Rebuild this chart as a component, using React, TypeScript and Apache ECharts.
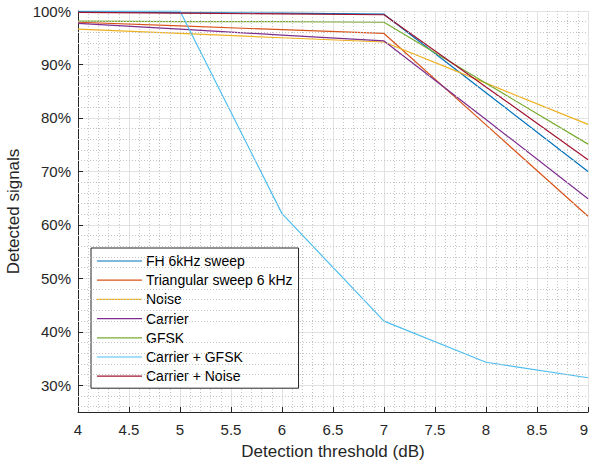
import React, { useEffect, useRef } from "react";
import * as echarts from "echarts";

// Detection thresholds (dB)
const thresholds = [4, 5, 6, 7, 8, 9];

const seriesNames = [
  "FH 6kHz sweep",
  "Triangular sweep 6 kHz",
  "Noise",
  "Carrier",
  "GFSK",
  "Carrier + GFSK",
  "Carrier + Noise",
];

// Detected signals (%)
const fhSweep = [99.9, 99.7, 99.6, 99.4, 84.7, 70.0];
const triangularSweep = [97.9, 97.2, 96.5, 95.8, 78.7, 61.6];
const noise = [96.6, 95.8, 95.0, 94.2, 86.5, 78.8];
const carrier = [97.7, 96.6, 95.5, 94.4, 79.7, 64.9];
const gfsk = [98.1, 98.0, 98.0, 97.9, 86.5, 75.1];
const carrierGfsk = [100, 100, 62.1, 42.0, 34.3, 31.4];
const carrierNoise = [99.75, 99.6, 99.45, 99.3, 85.8, 72.2];

const seriesValues = [fhSweep, triangularSweep, noise, carrier, gfsk, carrierGfsk, carrierNoise];

const colors = ["#0072BD", "#D95319", "#EDB120", "#7E2F8E", "#77AC30", "#4DBEEE", "#A2142F"];

const Y_MIN = 25;
const Y_MAX = 100;

const FONT = "'Liberation Sans', Arial, Helvetica, sans-serif";
const AXIS_COLOR = "#262626";

export default function App() {
  const ref = useRef<HTMLDivElement>(null);

  useEffect(() => {
    document.body.style.margin = "0";
    if (!ref.current) return;
    const chart = echarts.init(ref.current, undefined, { renderer: "svg" });

    // minor horizontal grid lines every 2% (not on major lines)
    const yMinor: number[] = [];
    for (let v = 26; v < Y_MAX; v += 2) {
      if (v % 10 !== 0) yMinor.push(v);
    }

    const lineSeries = seriesNames.map((name, i) => ({
      name,
      type: "line",
      data: thresholds.map((x, j) => [x, seriesValues[i][j]]),
      symbol: "none",
      showSymbol: false,
      color: colors[i],
      lineStyle: { color: colors[i], width: 1.2 },
      z: 3,
    }));

    chart.setOption({
      animation: false,
      textStyle: { fontFamily: FONT },
      grid: {
        left: 78,
        top: 11,
        right: 2,
        bottom: 52,
        containLabel: false,
        outerBoundsMode: "none",
      },
      legend: {
        data: seriesNames,
        orient: "vertical",
        left: 91,
        top: 248,
        icon: "path://M0,0 H45 V1.2 H0 Z",
        itemWidth: 45,
        itemHeight: 14,
        itemGap: 5.2,
        padding: [6, 6, 5, 6],
        backgroundColor: "#ffffff",
        borderColor: AXIS_COLOR,
        borderWidth: 1,
        borderRadius: 0,
        selectedMode: false,
        textStyle: { fontSize: 14, color: "#000", fontFamily: FONT, padding: [0, 0, 0, -1] },
      },
      xAxis: {
        type: "value",
        min: 4,
        max: 9,
        interval: 0.5,
        name: "Detection threshold (dB)",
        nameLocation: "middle",
        nameGap: 31,
        nameTextStyle: { fontSize: 17, color: AXIS_COLOR, fontFamily: FONT },
        axisLine: { show: true, onZero: false, lineStyle: { color: AXIS_COLOR, width: 1 } },
        axisTick: { show: true, inside: true, length: 5, lineStyle: { color: AXIS_COLOR } },
        axisLabel: {
          fontSize: 15,
          color: AXIS_COLOR,
          margin: 10,
          fontFamily: FONT,
          alignMaxLabel: "right",
        },
        splitLine: { show: true, lineStyle: { color: "#e2e2e2", width: 1 } },
        minorTick: { show: false, splitNumber: 5 },
        minorSplitLine: { show: true, lineStyle: { color: "#c4c4c4", width: 1, type: [1, 2] } },
      },
      yAxis: {
        type: "value",
        min: Y_MIN,
        max: Y_MAX,
        splitNumber: 7,
        name: "Detected signals",
        nameLocation: "middle",
        nameGap: 52,
        nameTextStyle: { fontSize: 17, color: AXIS_COLOR, fontFamily: FONT },
        axisLine: { show: true, onZero: false, lineStyle: { color: AXIS_COLOR, width: 1 } },
        axisTick: { show: true, inside: true, length: 5, lineStyle: { color: AXIS_COLOR } },
        axisLabel: {
          fontSize: 15,
          color: AXIS_COLOR,
          margin: 7,
          fontFamily: FONT,
          showMinLabel: false,
          formatter: (v: number) => (v % 10 === 0 ? `${v}%` : ""),
        },
        splitLine: { show: true, lineStyle: { color: "#e2e2e2", width: 1 } },
      },
      series: [
        {
          type: "line",
          data: [],
          silent: true,
          z: 1,
          markLine: {
            silent: true,
            symbol: ["none", "none"],
            label: { show: false },
            lineStyle: { color: "#c4c4c4", width: 1, type: [1, 2] },
            emphasis: { disabled: true },
            data: yMinor.map((v) => ({ yAxis: v })),
          },
        },
        ...lineSeries,
      ],
    });

    return () => chart.dispose();
  }, []);

  return <div ref={ref} style={{ width: 590, height: 464 }} />;
}
